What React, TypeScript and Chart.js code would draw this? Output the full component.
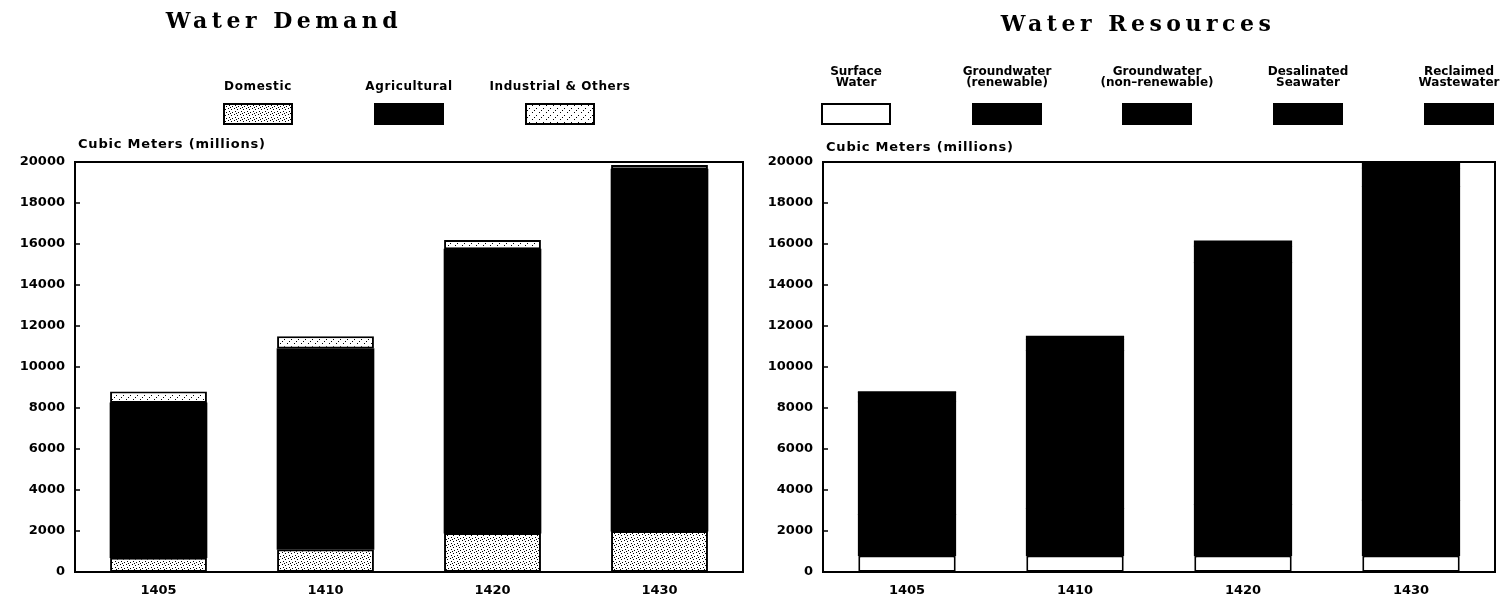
import React, { useEffect, useRef } from "react";
import { Chart, registerables } from "chart.js";

Chart.register(...registerables);

// ---------- data ----------
const years = ["1405", "1410", "1420", "1430"];

const demandLabels = ["Domestic", "Agricultural", "Industrial & Others"];
const domestic = [700, 1100, 1900, 2000];
const agricultural = [7550, 9800, 13850, 17650];
const industrial = [550, 600, 450, 200];

const resourceLabels = [
  "Surface\nWater",
  "Groundwater\n(renewable)",
  "Groundwater\n(non\u2013renewable)",
  "Desalinated\nSeawater",
  "Reclaimed\nWastewater",
];
const surfaceWater = [800, 800, 800, 800];
const groundwaterRenewable = [2000, 2300, 2500, 2700];
const groundwaterNonRenewable = [5500, 7700, 11800, 15300];
const desalinated = [450, 550, 800, 900];
const reclaimed = [50, 150, 250, 300];

const yMin = 0;
const yMax = 20000;
const yStep = 2000;

const titles = ["Water Demand", "Water Resources"];
const unitLabel = "Cubic Meters (millions)";

// ---------- helpers ----------
function makeStipple(size: number, dots: number[][]) {
  const c = document.createElement("canvas");
  c.width = size;
  c.height = size;
  const x = c.getContext("2d")!;
  x.fillStyle = "#fff";
  x.fillRect(0, 0, size, size);
  x.fillStyle = "#000";
  dots.forEach(([a, b]) => x.fillRect(a, b, 1, 1));
  return x.createPattern(c, "repeat") as CanvasPattern;
}

const FONT = '"DejaVu Sans", "Liberation Sans", sans-serif';

const decorPlugin = {
  id: "decor",
  afterDraw(chart: any, _args: any, opts: any) {
    const { ctx, chartArea: a } = chart;
    ctx.save();
    // frame
    ctx.strokeStyle = "#000";
    ctx.lineWidth = 2;
    ctx.strokeRect(a.left, a.top, a.right - a.left, a.bottom - a.top);
    // inward tick marks
    const ys = chart.scales.y;
    ctx.lineWidth = 1.5;
    ys.ticks.forEach((t: any) => {
      const py = ys.getPixelForValue(t.value);
      ctx.beginPath();
      ctx.moveTo(a.left, py);
      ctx.lineTo(a.left + 5, py);
      ctx.stroke();
    });
    // title
    ctx.fillStyle = "#000";
    ctx.font = 'bold 22px "DejaVu Serif", "Liberation Serif", serif';
    (ctx as any).letterSpacing = "4.5px";
    ctx.textAlign = "center";
    ctx.textBaseline = "middle";
    ctx.fillText(opts.title, opts.titleX, opts.titleY);
    // unit label
    ctx.font = `bold 13px ${FONT}`;
    (ctx as any).letterSpacing = "0.8px";
    ctx.textAlign = "left";
    ctx.fillText(opts.unit, opts.unitX, opts.unitY);
    // legend
    ctx.font = `bold ${opts.legendFontSize}px ${FONT}`;
    (ctx as any).letterSpacing = opts.legendSpacing;
    ctx.textAlign = "center";
    chart.data.datasets.forEach((ds: any, i: number) => {
      const cx = opts.legendX[i];
      const lines = String(ds.label).split("\n");
      const lh = opts.legendLineHeight;
      const y0 = opts.labelY - ((lines.length - 1) * lh) / 2;
      ctx.fillStyle = "#000";
      lines.forEach((ln: string, k: number) => ctx.fillText(ln, cx, y0 + k * lh));
      ctx.fillStyle = ds.backgroundColor;
      ctx.fillRect(cx - 34, opts.boxTop, 68, 20);
      ctx.strokeStyle = "#000";
      ctx.lineWidth = 2;
      ctx.strokeRect(cx - 34, opts.boxTop, 68, 20);
    });
    (ctx as any).letterSpacing = "0px";
    ctx.restore();
  },
};

function buildOptions(yWidth: number, rightPad: number, decor: any) {
  return {
    responsive: true,
    maintainAspectRatio: false,
    animation: false,
    layout: { padding: { top: 162, right: rightPad, bottom: 0, left: 0 } },
    plugins: {
      legend: { display: false },
      title: { display: false },
      tooltip: { enabled: false },
      decor,
    },
    scales: {
      x: {
        stacked: true,
        grid: { display: false, drawTicks: false },
        border: { display: false },
        ticks: {
          color: "#000",
          padding: 11,
          font: { family: FONT, weight: "bold", size: 13 },
        },
        afterFit: (s: any) => {
          s.height = 32;
        },
      },
      y: {
        stacked: true,
        min: yMin,
        max: yMax,
        grid: { display: false, drawTicks: false },
        border: { display: false },
        ticks: {
          stepSize: yStep,
          color: "#000",
          padding: 10,
          font: { family: FONT, weight: "bold", size: 13 },
          callback: (v: any) => String(v),
        },
        afterFit: (s: any) => {
          s.width = yWidth;
        },
      },
    },
  };
}

function barDs(label: string, data: number[], bg: any, outlined: boolean) {
  return {
    label,
    data,
    backgroundColor: bg,
    borderColor: "#000",
    borderWidth: outlined ? 2 : 0,
    borderSkipped: false,
    inflateAmount: outlined ? 0 : 0.4,
    barPercentage: 0.58,
    categoryPercentage: 1,
  };
}

export default function App() {
  const leftRef = useRef<HTMLCanvasElement>(null);
  const rightRef = useRef<HTMLCanvasElement>(null);

  useEffect(() => {
    const domPat = makeStipple(6, [
      [0, 0], [3, 1], [1, 3], [4, 4], [2, 5],
    ]);
    const indPat = makeStipple(7, [[0, 0], [4, 3], [2, 5]]);

    const left = new Chart(leftRef.current!, {
      type: "bar",
      data: {
        labels: years,
        datasets: [
          barDs(demandLabels[0], domestic, domPat, true),
          barDs(demandLabels[1], agricultural, "#000", false),
          barDs(demandLabels[2], industrial, indPat, true),
        ],
      },
      options: buildOptions(75, 11, {
        title: titles[0],
        titleX: 284,
        titleY: 22,
        unit: unitLabel,
        unitX: 78,
        unitY: 145,
        legendX: [258, 409, 560],
        labelY: 87,
        legendLineHeight: 11,
        legendFontSize: 12,
        legendSpacing: "0.6px",
        boxTop: 104,
      }) as any,
      plugins: [decorPlugin as any],
    });

    const right = new Chart(rightRef.current!, {
      type: "bar",
      data: {
        labels: years,
        datasets: [
          barDs(resourceLabels[0], surfaceWater, "#fff", true),
          barDs(resourceLabels[1], groundwaterRenewable, "#000", false),
          barDs(resourceLabels[2], groundwaterNonRenewable, "#000", false),
          barDs(resourceLabels[3], desalinated, "#000", false),
          barDs(resourceLabels[4], reclaimed, "#000", false),
        ],
      },
      options: buildOptions(69, 14, {
        title: titles[1],
        titleX: 384,
        titleY: 25,
        unit: unitLabel,
        unitX: 72,
        unitY: 148,
        legendX: [102, 253, 403, 554, 705],
        labelY: 77,
        legendLineHeight: 11,
        legendFontSize: 12,
        legendSpacing: "0px",
        boxTop: 104,
      }) as any,
      plugins: [decorPlugin as any],
    });

    return () => {
      left.destroy();
      right.destroy();
    };
  }, []);

  return (
    <div
      style={{
        position: "absolute",
        left: 0,
        top: 0,
        width: 1509,
        height: 604,
        background: "#fff",
        overflow: "hidden",
      }}
    >
      <div style={{ position: "absolute", left: 0, top: 0, width: 754, height: 604 }}>
        <canvas ref={leftRef} />
      </div>
      <div style={{ position: "absolute", left: 754, top: 0, width: 755, height: 604 }}>
        <canvas ref={rightRef} />
      </div>
    </div>
  );
}
